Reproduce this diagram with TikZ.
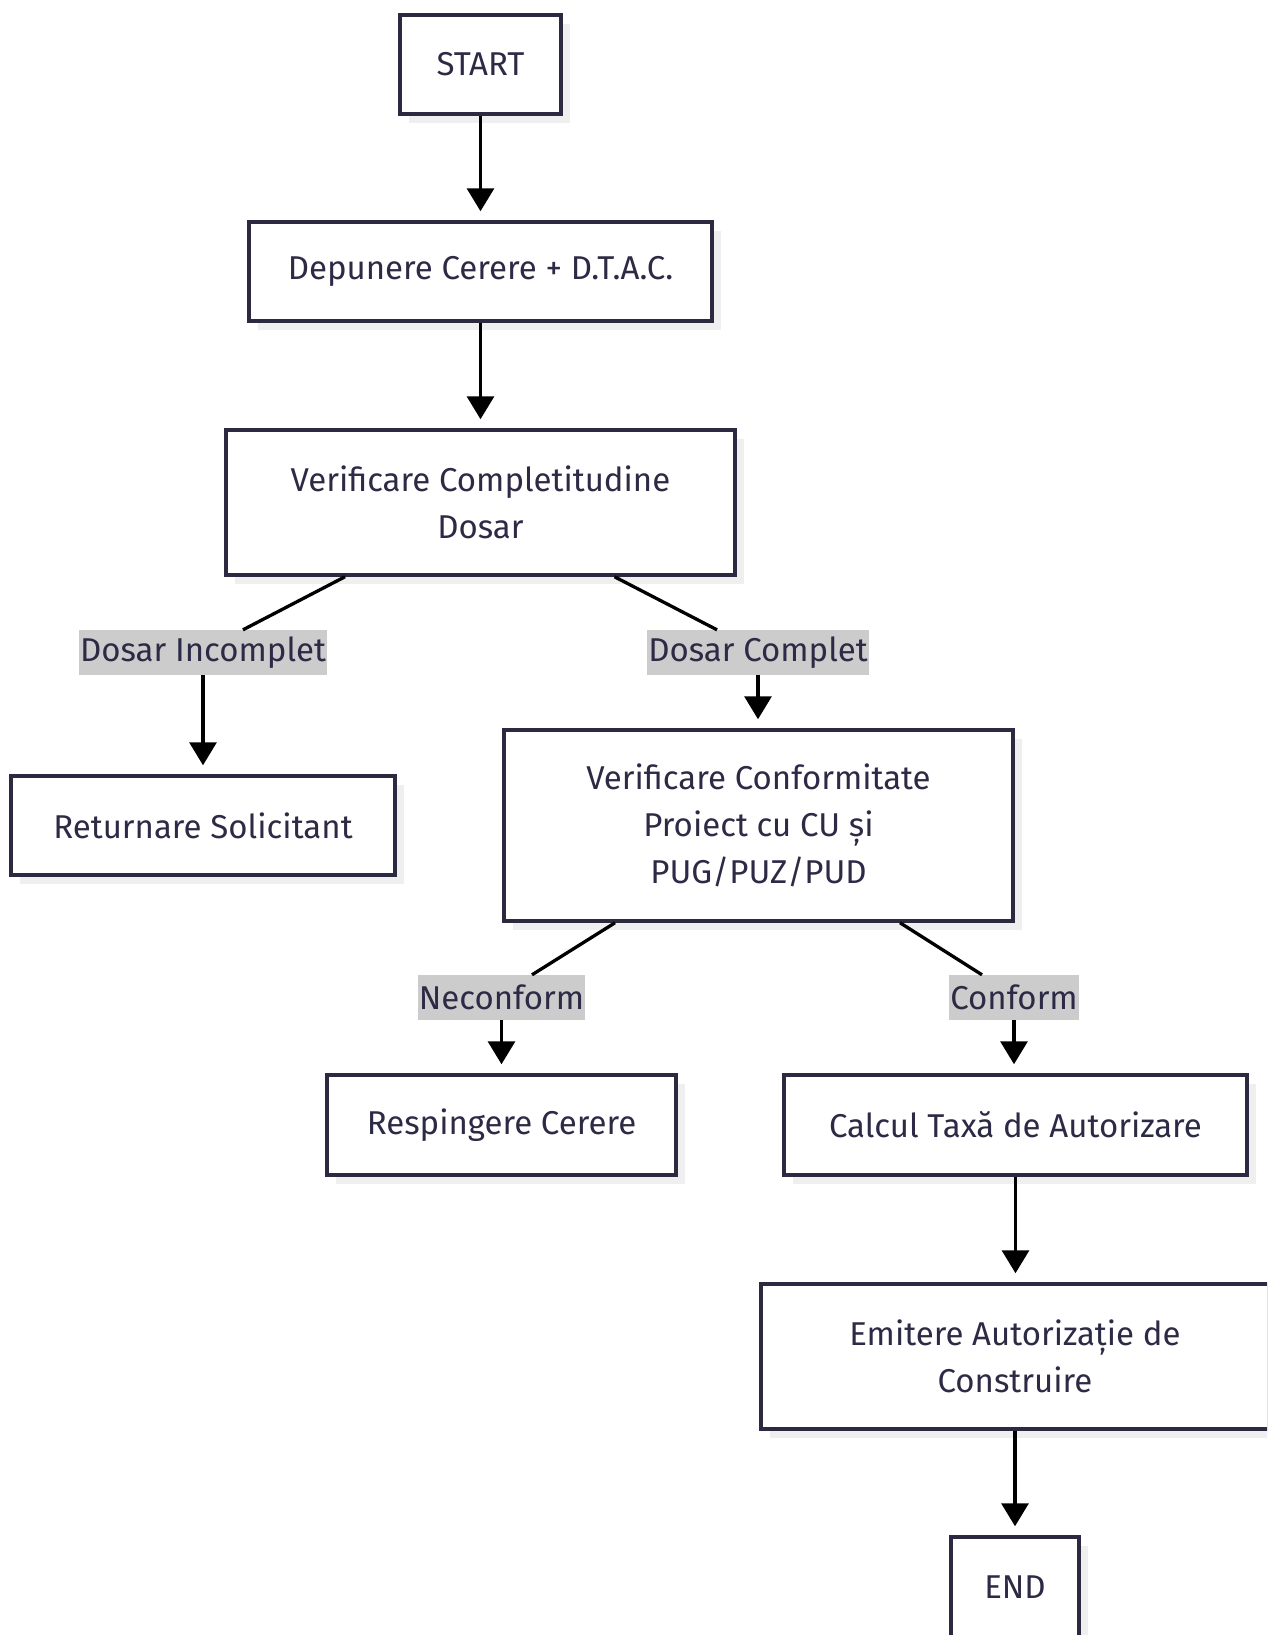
\documentclass[tikz,border=0pt]{standalone}
\usepackage{fontspec}
\setmainfont{Fira Sans}
\usetikzlibrary{arrows.meta,shadows}
\definecolor{boxline}{HTML}{2B2A40}
\definecolor{txt}{HTML}{2D2A45}
\definecolor{shadowc}{HTML}{EFEFEF}
\definecolor{lblbg}{HTML}{CCCCCC}
\tikzset{
  procbox/.style={draw=boxline, line width=3.5pt, fill=white, text=txt, align=center,
    inner sep=0pt, font=\fontsize{33}{47}\selectfont,
    drop shadow={shadow xshift=9pt, shadow yshift=-9pt, fill=shadowc, opacity=1}},
  lbl/.style={fill=lblbg, text=txt, inner xsep=1pt, inner ysep=0pt, minimum height=45pt,
    font=\fontsize{33}{38}\selectfont},
  conn/.style={line width=3.3pt, black},
  arr/.style={line width=3.3pt, black, -{Triangle[width=27pt,length=23pt]}, shorten >=9pt}
}
\begin{document}
\begin{tikzpicture}[x=1pt,y=-1pt]
\useasboundingbox (0,0) rectangle (1267,1635);
\fill[white] (0,0) rectangle (1267,1635);
\begin{scope}
\clip (0,0) rectangle (1267,1635);
\node[procbox, minimum width=161pt, minimum height=99pt] (start) at (480.5,64.5) {START};
\node[procbox, minimum width=463pt, minimum height=99pt] (dep) at (480.5,271.5) {Depunere Cerere + D.T.A.C.};
\node[procbox, minimum width=509pt, minimum height=145pt] (vc) at (480.5,502.5) {Verificare Completitudine\\Dosar};
\node[lbl] (l1) at (203,652.5) {Dosar Incomplet};
\node[lbl] (l2) at (758,652.5) {Dosar Complet};
\node[procbox, minimum width=384pt, minimum height=99pt] (ret) at (203,825.5) {Returnare Solicitant};
\node[procbox, minimum width=509pt, minimum height=191pt] (vcf) at (758.5,825.5) {Verificare Conformitate\\Proiect cu CU și\\PUG/PUZ/PUD};
\node[lbl] (l3) at (501.5,997.5) {Neconform};
\node[lbl] (l4) at (1014,997.5) {Conform};
\node[procbox, minimum width=349pt, minimum height=100pt] (resp) at (501.5,1125) {Respingere Cerere};
\node[procbox, minimum width=463pt, minimum height=100pt] (calc) at (1015.5,1125) {Calcul Taxă de Autorizare};
\node[procbox, minimum width=508pt, minimum height=145pt] (emit) at (1015,1356.5) {Emitere Autorizație de\\Construire};
\node[procbox, minimum width=128pt, minimum height=100pt] (end) at (1015,1587) {END};

\draw[arr] (start) -- (dep);
\draw[arr] (dep) -- (vc);
\draw[conn] ([xshift=-135.5pt]vc.south) -- ([xshift=40pt]l1.north);
\draw[conn] ([xshift=134pt]vc.south) -- ([xshift=-41pt]l2.north);
\draw[arr] (l1) -- (ret);
\draw[arr] (l2.south) -- (l2.south |- vcf.north);
\draw[conn] ([xshift=-143.5pt]vcf.south) -- ([xshift=30.5pt]l3.north);
\draw[conn] ([xshift=141.5pt]vcf.south) -- ([xshift=-32pt]l4.north);
\draw[arr] (l3.south) -- (l3.south |- resp.north);
\draw[arr] (l4.south) -- (l4.south |- calc.north);
\draw[arr] (calc.south) -- (calc.south |- emit.north);
\draw[arr] (emit.south) -- (emit.south |- end.north);
\end{scope}
\end{tikzpicture}
\end{document}
